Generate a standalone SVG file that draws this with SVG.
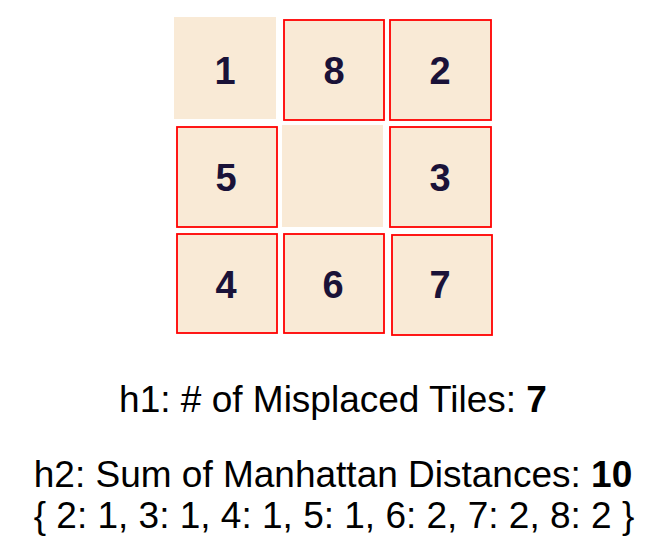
<svg xmlns="http://www.w3.org/2000/svg" width="662" height="553" viewBox="0 0 662 553">
<style>
.tile{fill:#F9EAD6;}
.mis{stroke:#FF0000;stroke-width:1.8;}
.num{font-family:"Liberation Sans",Arial,sans-serif;font-weight:bold;font-size:38px;fill:#1A1238;text-anchor:middle;}
.cap{font-family:"Liberation Sans",Arial,sans-serif;font-size:37px;fill:#000;text-anchor:middle;}
</style>
<rect width="662" height="553" fill="#FFFFFF"/>
<g id="tile-1"><rect class="tile" x="174" y="17" width="102" height="102"/><text class="num" x="225" y="84">1</text></g>
<g id="tile-8"><rect class="tile mis" x="284" y="20" width="100" height="100"/><text class="num" x="334" y="84">8</text></g>
<g id="tile-2"><rect class="tile mis" x="390" y="20" width="101" height="100"/><text class="num" x="440" y="84">2</text></g>
<g id="tile-5"><rect class="tile mis" x="177" y="127" width="100" height="100"/><text class="num" x="226" y="191">5</text></g>
<g id="tile-empty"><rect class="tile" x="282" y="125" width="101" height="102"/></g>
<g id="tile-3"><rect class="tile mis" x="390" y="127" width="101" height="100"/><text class="num" x="440" y="191">3</text></g>
<g id="tile-4"><rect class="tile mis" x="177" y="234" width="100" height="99"/><text class="num" x="226" y="298">4</text></g>
<g id="tile-6"><rect class="tile mis" x="284" y="234" width="100" height="99"/><text class="num" x="333" y="298">6</text></g>
<g id="tile-7"><rect class="tile mis" x="392" y="235" width="100" height="100"/><text class="num" x="440" y="298">7</text></g>
<g id="connectors"></g>
<g id="labels">
<text class="cap" x="333" y="412">h1: # of Misplaced Tiles: <tspan font-weight="bold">7</tspan></text>
<text class="cap" x="333" y="487">h2: Sum of Manhattan Distances: <tspan font-weight="bold">10</tspan></text>
<text class="cap" x="334" y="528">{ 2: 1, 3: 1, 4: 1, 5: 1, 6: 2, 7: 2, 8: 2 }</text>
</g>
</svg>
